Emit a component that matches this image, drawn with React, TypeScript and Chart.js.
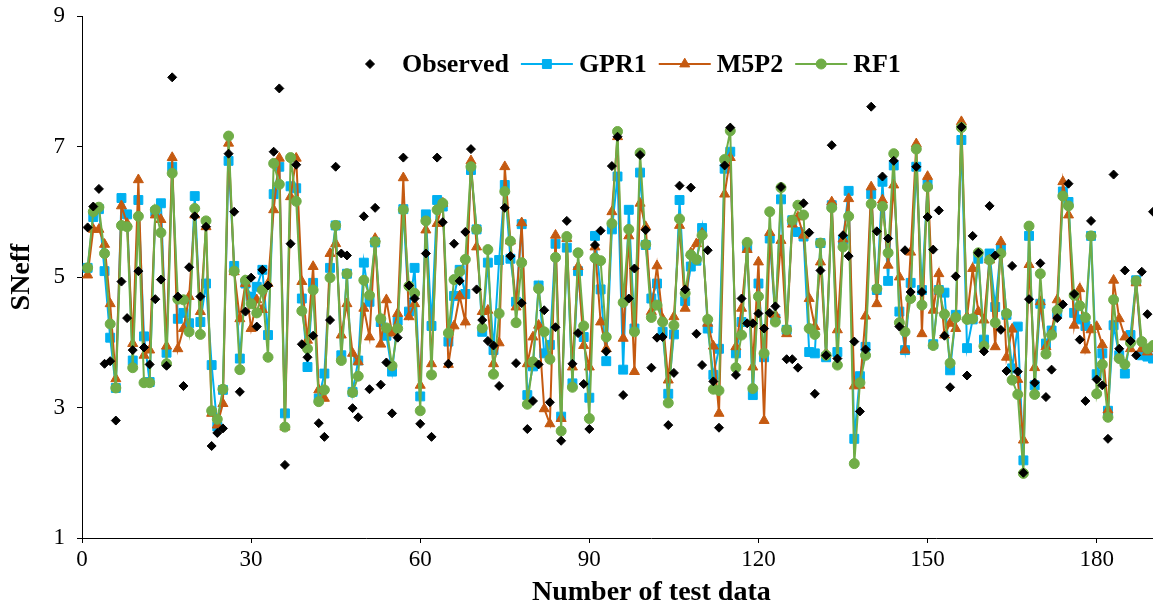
import React, { useEffect, useRef } from 'react';
import { Chart, registerables } from 'chart.js';
import { drawPoint } from 'chart.js/helpers';

Chart.register(...registerables);

const FONT = "'Liberation Serif', 'Times New Roman', serif";

const observed = [
  5.76, 6.08, 6.35, 3.67, 3.71, 2.80, 4.93, 4.37, 3.88, 5.09,
  3.92, 3.66, 4.66, 4.96, 3.64, 8.06, 4.70, 3.33, 5.15, 5.93,
  4.70, 5.77, 2.41, 2.61, 2.68, 6.89, 6.00, 3.24, 4.47, 4.99,
  4.24, 5.11, 4.87, 6.92, 7.89, 2.12, 5.51, 6.72, 3.97, 3.77,
  4.10, 2.76, 2.55, 4.34, 6.69, 5.36, 5.33, 2.99, 2.85, 5.93,
  3.28, 6.06, 3.35, 3.69, 2.91, 4.07, 6.83, 4.87, 4.67, 2.75,
  5.36, 2.55, 6.83, 5.84, 3.67, 5.51, 4.94, 5.69, 6.96, 4.81,
  4.34, 4.02, 3.95, 3.33, 6.06, 5.32, 3.68, 4.60, 2.67, 3.10,
  3.66, 4.49, 3.08, 4.23, 2.49, 5.86, 3.67, 4.14, 3.36, 2.67,
  5.49, 5.71, 3.86, 6.70, 7.15, 3.19, 4.67, 5.13, 6.87, 5.72,
  3.61, 4.07, 4.08, 2.73, 3.53, 6.40, 4.81, 6.37, 4.13, 3.65,
  5.41, 3.40, 2.69, 6.71, 7.29, 3.50, 4.67, 4.29, 4.29, 4.44,
  4.21, 4.45, 4.55, 6.38, 3.74, 3.74, 3.61, 6.13, 5.68, 3.21,
  5.10, 3.80, 7.02, 3.75, 5.64, 5.32, 4.01, 2.94, 3.89, 7.61,
  5.70, 6.54, 5.59, 6.78, 4.24, 5.41, 4.77, 6.69, 4.77, 5.92,
  5.42, 6.02, 4.10, 3.31, 5.01, 7.30, 3.49, 5.63, 5.37, 3.86,
  6.09, 5.33, 4.19, 3.56, 5.17, 3.55, 2.00, 4.66, 3.38, 5.21,
  3.16, 3.58, 4.37, 4.58, 6.43, 4.74, 4.04, 3.10, 5.86, 3.43,
  3.34, 2.52, 6.57, 3.90, 5.10, 4.02, 3.80, 5.08, 4.43, 6.00,
];

const gpr1 = [
  5.14, 5.92, 6.04, 5.09, 4.07, 3.30, 6.21, 5.96, 3.72, 6.18,
  4.09, 3.39, 6.00, 6.13, 3.84, 6.69, 4.36, 4.45, 4.29, 6.24,
  4.31, 4.90, 3.65, 2.71, 3.27, 6.78, 5.17, 3.75, 4.90, 4.70,
  4.85, 5.11, 4.11, 6.27, 6.69, 2.91, 6.39, 6.36, 4.67, 3.62,
  4.91, 3.14, 3.52, 5.14, 5.79, 3.80, 5.05, 3.24, 3.72, 5.22,
  4.62, 5.53, 4.31, 4.10, 3.55, 4.33, 6.04, 4.47, 5.14, 3.17,
  5.96, 4.25, 6.18, 6.08, 4.01, 4.71, 5.11, 4.74, 6.64, 5.73,
  4.16, 5.22, 3.88, 5.26, 6.41, 5.28, 4.62, 5.81, 3.19, 3.63,
  4.87, 3.83, 3.96, 5.51, 2.86, 5.45, 3.37, 5.09, 4.08, 3.15,
  5.63, 4.81, 3.71, 5.73, 6.54, 3.58, 6.03, 4.21, 6.60, 5.49,
  4.67, 4.90, 4.16, 3.21, 4.12, 6.18, 4.63, 5.16, 5.25, 5.75,
  4.21, 3.50, 3.90, 6.66, 6.92, 3.83, 4.31, 5.46, 3.19, 4.90,
  3.77, 5.59, 4.36, 6.19, 4.19, 5.87, 5.69, 5.62, 3.85, 3.83,
  5.52, 3.77, 6.10, 3.85, 5.57, 6.32, 2.52, 3.48, 3.93, 6.27,
  4.80, 6.46, 4.94, 6.71, 4.47, 3.88, 4.91, 6.69, 4.80, 6.42,
  3.97, 4.80, 4.76, 3.57, 4.42, 7.10, 3.91, 4.35, 5.28, 4.04,
  5.36, 4.54, 5.44, 4.42, 3.60, 4.24, 2.19, 5.63, 3.34, 4.59,
  3.98, 4.18, 4.45, 6.31, 6.15, 4.45, 4.35, 4.25, 5.63, 3.51,
  3.83, 2.95, 4.26, 3.80, 3.52, 4.11, 4.95, 3.80, 3.78, 3.75,
];

const m5p2 = [
  5.03, 5.73, 5.73, 5.50, 4.59, 3.44, 6.09, 5.82, 3.98, 6.49,
  3.80, 3.88, 5.95, 5.88, 3.94, 6.83, 3.90, 4.21, 4.70, 5.95,
  4.47, 5.77, 2.91, 2.73, 3.06, 7.05, 5.08, 4.36, 4.90, 4.21,
  4.65, 4.50, 4.90, 6.03, 6.82, 2.70, 6.23, 6.82, 4.93, 4.03,
  5.16, 3.27, 3.14, 5.36, 5.51, 4.11, 4.59, 3.83, 3.70, 4.52,
  4.08, 5.59, 3.97, 4.65, 4.14, 4.44, 6.52, 4.39, 4.59, 3.34,
  5.72, 3.67, 5.82, 6.13, 3.66, 4.25, 4.71, 4.31, 6.78, 5.46,
  4.47, 4.49, 3.67, 3.99, 6.69, 5.55, 4.54, 5.83, 3.67, 4.08,
  4.26, 2.98, 2.75, 5.64, 2.83, 5.59, 3.62, 5.16, 3.95, 3.62,
  5.46, 4.31, 3.90, 6.00, 7.15, 4.06, 5.63, 3.55, 6.13, 5.77,
  4.47, 5.17, 4.36, 3.42, 4.39, 5.79, 4.52, 5.37, 5.51, 5.67,
  4.29, 3.94, 2.91, 6.27, 6.83, 3.93, 4.52, 5.42, 3.62, 5.23,
  2.80, 5.68, 4.42, 5.56, 4.13, 5.81, 5.92, 5.64, 4.67, 4.24,
  5.23, 3.83, 6.15, 4.19, 5.58, 6.20, 3.33, 3.34, 4.40, 6.38,
  4.59, 6.18, 5.18, 6.41, 5.00, 3.88, 5.38, 7.04, 4.13, 6.54,
  4.49, 5.05, 4.11, 4.29, 4.21, 7.38, 4.39, 5.13, 4.47, 4.34,
  5.26, 3.93, 5.54, 3.77, 4.20, 3.43, 2.50, 5.19, 3.61, 4.62,
  3.93, 4.16, 4.65, 6.46, 5.95, 4.26, 4.82, 3.88, 4.19, 4.24,
  3.96, 2.96, 4.95, 4.36, 4.08, 3.90, 4.91, 3.90, 3.85, 3.90,
];

const rf1 = [
  5.14, 6.00, 6.07, 5.36, 4.28, 3.30, 5.79, 5.77, 3.61, 5.93,
  3.38, 3.38, 6.03, 5.68, 3.67, 6.59, 4.66, 4.65, 4.16, 6.05,
  4.12, 5.86, 2.95, 2.82, 3.28, 7.16, 5.09, 3.58, 4.95, 4.59,
  4.45, 4.80, 3.77, 6.74, 6.42, 2.70, 6.83, 6.16, 4.48, 3.90,
  4.80, 3.09, 3.27, 4.99, 5.79, 3.72, 5.05, 3.23, 3.48, 4.95,
  4.72, 5.54, 4.36, 4.22, 3.64, 4.21, 6.03, 4.86, 4.75, 2.95,
  5.86, 3.50, 6.03, 6.13, 4.14, 4.96, 5.08, 5.27, 6.69, 5.73,
  4.22, 5.42, 3.51, 4.44, 6.31, 5.55, 4.30, 5.22, 3.05, 3.70,
  4.82, 4.16, 3.74, 5.30, 2.64, 5.62, 3.31, 5.37, 4.25, 2.83,
  5.29, 5.25, 4.08, 5.82, 7.23, 4.61, 5.73, 4.16, 6.90, 5.50,
  4.38, 4.57, 4.31, 3.07, 4.26, 5.89, 4.75, 5.34, 5.27, 5.64,
  4.35, 3.28, 3.26, 6.80, 7.24, 3.61, 4.11, 5.53, 3.29, 4.70,
  3.83, 6.00, 4.31, 6.37, 4.19, 5.87, 6.10, 5.95, 4.21, 4.12,
  5.52, 3.80, 6.06, 3.65, 5.46, 5.93, 2.14, 3.38, 3.80, 6.12,
  4.82, 6.08, 5.37, 6.89, 4.30, 4.16, 4.67, 6.96, 4.57, 6.38,
  3.95, 4.80, 4.43, 3.68, 4.38, 7.29, 4.35, 4.36, 5.37, 3.94,
  5.26, 4.30, 5.36, 4.44, 3.42, 3.20, 1.99, 5.78, 3.20, 5.05,
  3.82, 4.11, 4.49, 6.24, 6.09, 4.72, 4.56, 4.38, 5.63, 3.21,
  3.66, 2.85, 4.65, 3.75, 3.66, 3.99, 4.94, 4.01, 3.90, 3.95,
];

const testNumbers = observed.map((_, i) => i + 1);
const seriesLabels = ['Observed', 'GPR1', 'M5P2', 'RF1'];
const seriesColors = ['#000000', '#00B0F0', '#C55A11', '#70AD47'];

const insideLegend = {
  id: 'insideLegend',
  afterDraw(chart: any) {
    const ctx = chart.ctx;
    ctx.save();
    ctx.font = `bold 26px ${FONT}`;
    ctx.textBaseline = 'middle';
    ctx.textAlign = 'left';
    const y = 64;
    let x = 344;
    const slot = 52;
    chart.data.datasets.forEach((ds: any) => {
      const cx = x + slot / 2;
      if (ds.showLine !== false) {
        ctx.strokeStyle = ds.borderColor;
        ctx.lineWidth = ds.borderWidth;
        ctx.beginPath();
        ctx.moveTo(x, y);
        ctx.lineTo(x + slot, y);
        ctx.stroke();
      }
      ctx.fillStyle = ds.pointBackgroundColor;
      ctx.strokeStyle = ds.pointBorderColor;
      ctx.lineWidth = 1;
      drawPoint(ctx, { pointStyle: ds.pointStyle, radius: ds.pointRadius, borderWidth: 1, rotation: 0 }, cx, y);
      x += slot + 6;
      ctx.fillStyle = '#000';
      ctx.fillText(ds.label, x, y + 1);
      x += ctx.measureText(ds.label).width + 12;
    });
    ctx.restore();
  },
};

export default function App() {
  const ref = useRef<HTMLCanvasElement>(null);
  useEffect(() => {
    if (!ref.current) return;
    const toXY = (arr: number[]) => arr.map((y, i) => ({ x: testNumbers[i], y }));
    const lineDs = (idx: number, data: number[], style: string, radius: number, order: number) => ({
      label: seriesLabels[idx],
      data: toXY(data),
      borderColor: seriesColors[idx],
      backgroundColor: seriesColors[idx],
      pointBackgroundColor: seriesColors[idx],
      pointBorderColor: seriesColors[idx],
      pointStyle: style,
      pointRadius: radius,
      pointBorderWidth: 1,
      borderWidth: 2,
      tension: 0,
      showLine: true,
      order,
    });
    const chart = new Chart(ref.current, {
      type: 'line',
      data: {
        datasets: [
          {
            label: seriesLabels[0],
            data: toXY(observed),
            showLine: false,
            borderColor: seriesColors[0],
            backgroundColor: seriesColors[0],
            pointBackgroundColor: seriesColors[0],
            pointBorderColor: seriesColors[0],
            pointStyle: 'rectRot',
            pointRadius: 4.5,
            pointBorderWidth: 1,
            borderWidth: 0,
            order: 0,
          } as any,
          lineDs(1, gpr1, 'rect', 6.3, 3),
          lineDs(2, m5p2, 'triangle', 5.8, 2),
          lineDs(3, rf1, 'circle', 5, 1),
        ],
      },
      options: {
        responsive: false,
        animation: false,
        devicePixelRatio: 1,
        layout: { padding: { top: 16, left: 0, right: 0, bottom: 0 } },
        plugins: { legend: { display: false }, tooltip: { enabled: false } },
        scales: {
          x: {
            type: 'linear',
            min: 0,
            max: 202,
            ticks: {
              stepSize: 30,
              includeBounds: false,
              color: '#000',
              font: { family: FONT, size: 23 },
              padding: 3,
              maxRotation: 0,
            },
            grid: { drawOnChartArea: false, drawTicks: true, tickLength: 5, color: '#000' },
            border: { display: true, color: '#000', width: 1 },
            title: {
              display: true,
              text: 'Number of test data',
              color: '#000',
              font: { family: FONT, size: 28, weight: 'bold' },
              padding: { top: 0, bottom: 0 },
            },
            afterFit: (s: any) => { s.height = 72; s.paddingLeft = 0; s.paddingRight = 0; },
          },
          y: {
            min: 1,
            max: 9,
            ticks: {
              stepSize: 2,
              color: '#000',
              font: { family: FONT, size: 23 },
              padding: 12,
            },
            grid: { drawOnChartArea: false, drawTicks: true, tickLength: 5, color: '#000' },
            border: { display: true, color: '#000', width: 1 },
            title: {
              display: true,
              text: 'SNeff',
              color: '#000',
              font: { family: FONT, size: 28, weight: 'bold' },
              padding: { top: 5, bottom: 0 },
            },
            afterFit: (s: any) => { s.width = 82; s.paddingTop = 0; s.paddingBottom = 0; },
          },
        },
      } as any,
      plugins: [insideLegend],
    });
    return () => chart.destroy();
  }, []);
  return (
    <div style={{ position: 'absolute', left: 0, top: 0, width: 1153, height: 610, overflow: 'hidden', background: '#fff' }}>
      <canvas ref={ref} width={1228} height={610} style={{ display: 'block' }} />
    </div>
  );
}
